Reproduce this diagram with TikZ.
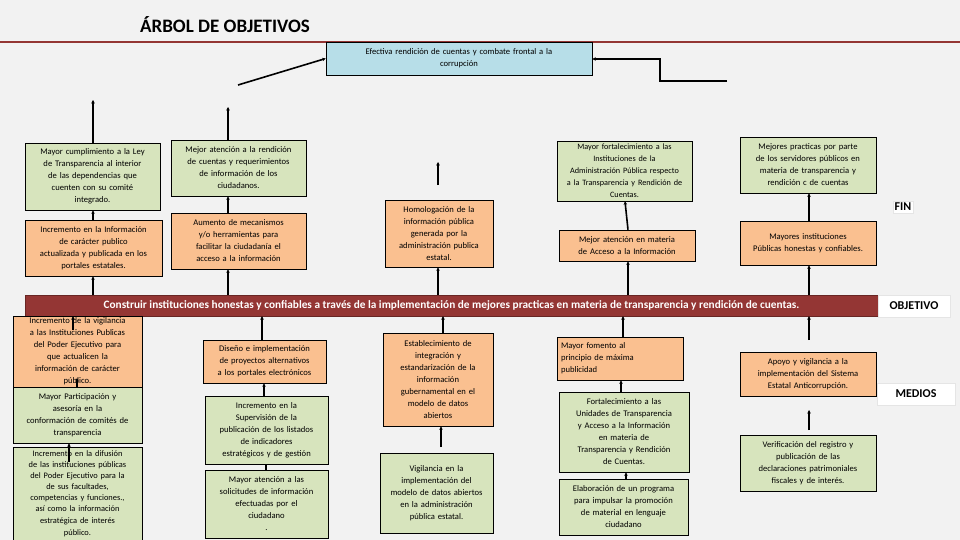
\documentclass[tikz,border=0pt]{standalone}
\usepackage{fontspec}
\setmainfont{Carlito}
\usetikzlibrary{arrows.meta}
\definecolor{bg}{HTML}{F2F2F2}
\definecolor{gr}{HTML}{D7E4BD}
\definecolor{or}{HTML}{FAC090}
\definecolor{bl}{HTML}{B7DEE8}
\definecolor{rd}{HTML}{943634}
\tikzset{
 bx/.style={draw=black,line width=0.6pt,inner sep=1pt,align=center,font=\fontsize{8.6}{12}\selectfont},
 ar/.style={line width=1.6pt,-{Stealth[length=3.5pt,width=3.5pt]}},
 ln/.style={line width=1.6pt},
 lab/.style={fill=white,draw=white!90!black,font=\bfseries\fontsize{12}{14}\selectfont,inner sep=2pt}
}
\newcommand{\bxx}[7]{\node[bx,fill=#6,minimum width={#4-#2},minimum height={#5-#3},text width={#4-#2-3}] (#1) at ({(#2+#4)/2},{(#3+#5)/2}) {#7};}
\begin{document}
\begin{tikzpicture}[x=1pt,y=-1pt]
\fill[bg] (0,0) rectangle (960,540);
\useasboundingbox (0,0) rectangle (960,540);
\draw[rd,line width=2.5pt] (0,42) -- (960,42);
\node[font=\bfseries\fontsize{19}{21}\selectfont] (title) at (225,25) {ÁRBOL DE OBJETIVOS};
\bxx{top}{326}{42}{592}{75}{bl}{Efectiva rendición de cuentas y combate frontal a la\\corrupción}
\coordinate (tl) at (238,85);
\coordinate (tr) at (727,81);
\draw[ar] (tl) -- (top.west);
\draw[ar] (tr) -- (660,81) -- (660,59) -- (top.east |- 0,59);
% FIN row
\bxx{A}{25}{143}{160}{210}{gr}{Mayor cumplimiento a la Ley\\de Transparencia al interior\\de las dependencias que\\cuenten con su comité\\integrado.}
\bxx{B}{171}{140}{306}{196}{gr}{Mejor atención a la rendición\\de cuentas y requerimientos\\de información de los\\ciudadanos.}
\bxx{C}{557}{141}{692}{201}{gr}{\fontsize{8.2}{12}\selectfont Mayor fortalecimiento a las\\Instituciones de la\\Administración Pública respecto\\a la Transparencia y Rendición de\\Cuentas.}
\bxx{D}{740}{137}{876}{193}{gr}{Mejores practicas por parte\\de los servidores públicos en\\materia de transparencia y\\rendición c de cuentas}
\bxx{Hm}{385}{200}{493}{267}{or}{Homologación de la\\información pública\\generada por la\\administración publica\\estatal.}
\bxx{E}{25}{220}{162}{276}{or}{Incremento en la Información\\de carácter publico\\actualizada y publicada en los\\portales estatales.}
\bxx{F}{171}{213}{306}{269}{or}{Aumento de mecanismos\\y/o herramientas para\\facilitar la ciudadanía el\\acceso a la información}
\bxx{G}{559}{230}{695}{261}{or}{Mejor atención en materia\\de Acceso a la Información}
\bxx{H}{740}{221}{876}{265}{or}{Mayores instituciones\\Públicas honestas y confiables.}
\coordinate (a1) at (93,100);
\coordinate (b1) at (228,107);
\coordinate (h1) at (438,162);
\draw[ar] (A.north -| 93,0) -- (a1);
\draw[ar] (B.north -| 228,0) -- (b1);
\draw[ar] (438,185) -- (h1);
\draw[ar] (E.north -| 93,0) -- (A.south -| 93,0);
\draw[ar] (F.north -| 228,0) -- (B.south -| 228,0);
\draw[ar] (G.north -| 628,0) -- (C.south -| 625,0);
\draw[ar] (H.north -| 809,0) -- (D.south -| 809,0);
\node[lab] (fin) at (903,207) {FIN};
% bar
\node[fill=rd,draw=rd!70!black,minimum width=853,minimum height=21,text=white,font=\bfseries\fontsize{11.3}{13}\selectfont,inner sep=0] (bar) at (451.5,305.5) {Construir instituciones honestas y confiables a través de la implementación de mejores practicas en materia de transparencia y rendición de cuentas.};
\node[lab,minimum width=72,minimum height=22] (obj) at (914,306) {OBJETIVO};
\foreach \x/\n in {93/E,228/F,438/Hm,628/G,809/H}{\draw[ar] (bar.north -| \x,0) -- (\n.south -| \x,0);}
% MEDIOS
\bxx{I}{13}{316}{142}{387}{or}{Incremento de la vigilancia\\a las Instituciones Publicas\\del Poder Ejecutivo para\\que actualicen la\\información de carácter\\público.}
\bxx{J}{13}{387}{142}{443}{gr}{Mayor Participación y\\asesoría en la\\conformación de comités de\\transparencia}
\bxx{K}{13}{447}{142}{540}{gr}{\fontsize{8.4}{11.1}\selectfont Incremento en la difusión\\de las instituciones públicas\\del Poder Ejecutivo para la\\de sus facultades,\\competencias y funciones.,\\así como la información\\estratégica de interés\\público.}
\bxx{L}{203}{340}{326}{383}{or}{Diseño e implementación\\de proyectos alternativos\\a los portales electrónicos}
\bxx{M}{205}{396}{328}{464}{gr}{Incremento en la\\Supervisión de la\\publicación de los listados\\de indicadores\\estratégicos y de gestión}
\bxx{N}{205}{470}{328}{538}{gr}{Mayor atención a las\\solicitudes de información\\efectuadas por el\\ciudadano\\.}
\bxx{O}{383}{333}{493}{426}{or}{Establecimiento de\\integración y\\estandarización de la\\información\\gubernamental en el\\modelo de datos\\abiertos}
\bxx{P}{380}{453}{493}{533}{gr}{Vigilancia en la\\implementación del\\modelo de datos abiertos\\en la administración\\pública estatal.}
\node[bx,fill=or,minimum width=126,minimum height=43,text width=118,align=left] (Q) at (620,358.5) {Mayor fomento al\\principio de máxima\\publicidad};
\bxx{R}{559}{392}{689}{472}{gr}{Fortalecimiento a las\\Unidades de Transparencia\\y Acceso a la Información\\en materia de\\Transparencia y Rendición\\de Cuentas.}
\bxx{S}{559}{479}{688}{535}{gr}{Elaboración de un programa\\para impulsar la promoción\\de material en lenguaje\\ciudadano}
\bxx{T}{740}{352}{876}{396}{or}{Apoyo y vigilancia a la\\implementación del Sistema\\Estatal Anticorrupción.}
\bxx{U}{740}{435}{876}{491}{gr}{Verificación del registro y\\publicación de las\\declaraciones patrimoniales\\fiscales y de interés.}
\node[lab,minimum width=78,minimum height=22] (med) at (916,394) {MEDIOS};
\draw[ar] (73,330) -- (bar.south -| 73,0);
\draw[ar] (J.north -| 77,0) -- (77,378);
\draw[ar] (69,462) -- (J.south -| 69,0);
\draw[ar] (L.north -| 262,0) -- (bar.south -| 262,0);
\draw[ar] (M.north -| 264,0) -- (L.south -| 264,0);
\draw[ln] (N.north -| 266,0) -- (M.south -| 266,0);
\draw[ar] (O.north -| 443,0) -- (bar.south -| 443,0);
\draw[ar] (441,447) -- (O.south -| 441,0);
\draw[ar] (Q.north -| 623,0) -- (bar.south -| 623,0);
\draw[ar] (R.north -| 621,0) -- (Q.south -| 621,0);
\draw[ar] (S.north -| 626,0) -- (R.south -| 626,0);
\draw[ar] (809,340) -- (bar.south -| 809,0);
\draw[ar] (809,430) -- (809,410);
\end{tikzpicture}
\end{document}
